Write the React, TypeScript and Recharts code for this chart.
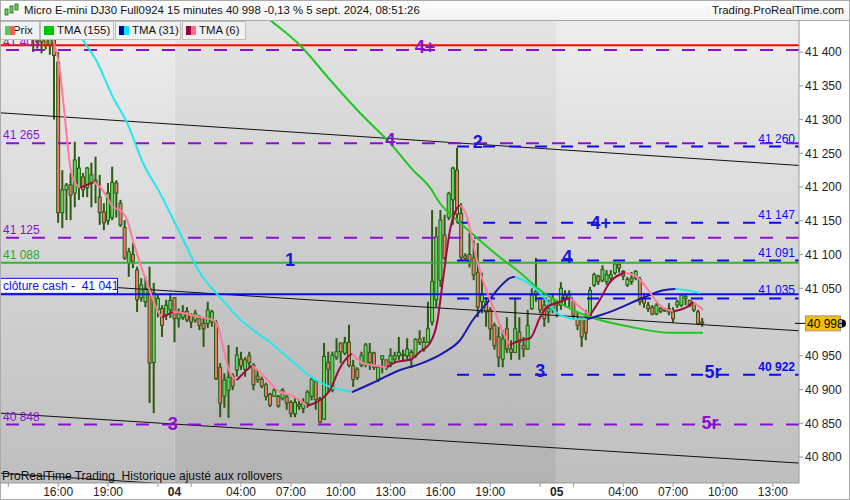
import React from 'react'
import {
  ComposedChart,
  Bar,
  Line,
  XAxis,
  YAxis,
  ReferenceLine,
  ReferenceArea,
  ReferenceDot,
} from 'recharts'

// x = 15-min slot counted from 3 sept. 12:30 (23:00-00:00 break left out)
const X_MAX = 192.3
const Y_MIN = 40761.5
const Y_MAX = 41446

// [slot, open, high, low, close]
const candles: number[][] = [
  [8, 41425, 41440, 41400, 41432], [9, 41432, 41445, 41405, 41415], [10, 41415, 41436, 41398, 41428],
  [11, 41428, 41440, 41404, 41410], [12, 41410, 41432, 41396, 41422], [13, 41418, 41425, 41300, 41395],
  [14, 41385, 41400, 41147, 41162], [15, 41162, 41225, 41139, 41196], [16, 41196, 41206, 41151, 41203],
  [17, 41203, 41221, 41151, 41188], [18, 41191, 41267, 41170, 41240], [19, 41200, 41245, 41181, 41228],
  [20, 41215, 41221, 41185, 41196], [21, 41199, 41230, 41185, 41228], [22, 41206, 41236, 41170, 41218],
  [23, 41210, 41245, 41176, 41205], [24, 41185, 41218, 41144, 41162], [25, 41163, 41176, 41136, 41147],
  [26, 41150, 41206, 41144, 41191], [27, 41155, 41230, 41151, 41207], [28, 41206, 41210, 41155, 41191],
  [29, 41176, 41181, 41141, 41144], [30, 41140, 41151, 41092, 41095], [31, 41088, 41110, 41067, 41104],
  [32, 41100, 41117, 41080, 41090], [33, 41077, 41082, 41015, 41033], [34, 41036, 41065, 41030, 41055],
  [35, 41030, 41067, 41022, 41050], [36, 41050, 41082, 40880, 40939], [37, 40940, 41058, 40865, 41043],
  [38, 41018, 41040, 41007, 41035], [39, 41020, 41025, 40978, 40995], [40, 41010, 41033, 41003, 41025],
  [41, 41018, 41043, 41006, 41032], [42, 41036, 41037, 40970, 41005], [43, 41005, 41020, 40992, 41012],
  [44, 41007, 41025, 41003, 41015], [45, 41016, 41022, 41000, 41003], [46, 41010, 41013, 40991, 41000],
  [47, 41003, 41018, 40999, 41013], [48, 41005, 41010, 40988, 40995], [49, 40998, 41006, 40963, 40990],
  [50, 40998, 41030, 40991, 41018], [51, 41000, 41018, 40993, 41015], [52, 40999, 41003, 40914, 40916],
  [53, 40933, 40939, 40859, 40880], [54, 40890, 40924, 40873, 40914], [55, 40899, 40966, 40858, 40918],
  [56, 40920, 40924, 40899, 40905], [57, 40929, 40963, 40919, 40951], [58, 40945, 40956, 40929, 40935],
  [59, 40930, 40948, 40919, 40944], [60, 40950, 40956, 40932, 40940], [61, 40936, 40939, 40899, 40907],
  [62, 40920, 40929, 40910, 40915], [63, 40915, 40919, 40902, 40905], [64, 40907, 40910, 40884, 40890],
  [65, 40893, 40895, 40874, 40877], [66, 40890, 40902, 40889, 40899], [67, 40890, 40892, 40873, 40876],
  [68, 40887, 40902, 40884, 40899], [69, 40889, 40892, 40870, 40880], [70, 40881, 40884, 40859, 40865],
  [71, 40864, 40887, 40859, 40881], [72, 40878, 40884, 40870, 40875], [73, 40872, 40887, 40865, 40880],
  [74, 40880, 40899, 40873, 40896], [75, 40890, 40919, 40884, 40915], [76, 40912, 40914, 40870, 40885],
  [77, 40886, 40889, 40850, 40852], [78, 40856, 40969, 40855, 40949], [79, 40940, 40956, 40895, 40930],
  [80, 40899, 40956, 40896, 40951], [81, 40948, 40976, 40944, 40956], [82, 40969, 40969, 40939, 40956],
  [83, 40954, 40978, 40951, 40969], [84, 40970, 40996, 40933, 40936], [85, 40935, 40944, 40904, 40915],
  [86, 40930, 40933, 40914, 40918], [87, 40936, 40956, 40933, 40950], [88, 40938, 40969, 40933, 40966],
  [89, 40955, 40969, 40929, 40940], [90, 40954, 40956, 40929, 40933], [91, 40915, 40936, 40911, 40933],
  [92, 40945, 40951, 40924, 40950], [93, 40944, 40944, 40929, 40933], [94, 40940, 40961, 40933, 40950],
  [95, 40945, 40956, 40939, 40950], [96, 40950, 40978, 40944, 40955], [97, 40952, 40959, 40941, 40950],
  [98, 40950, 40976, 40944, 40960], [99, 40955, 40959, 40932, 40945], [100, 40950, 40976, 40947, 40974],
  [101, 40975, 40988, 40966, 40970], [102, 40960, 40978, 40956, 40970], [103, 40970, 41030, 40969, 40990],
  [104, 41000, 41166, 40995, 41060], [105, 41033, 41141, 41022, 41126], [106, 41062, 41166, 41052, 41151],
  [107, 41129, 41159, 41092, 41095], [108, 41155, 41193, 41151, 41190], [109, 41181, 41230, 41144, 41228],
  [110, 41225, 41258, 41147, 41160], [111, 41161, 41176, 41092, 41096], [112, 41098, 41102, 41092, 41094],
  [113, 41100, 41132, 41081, 41090], [114, 41095, 41121, 41062, 41070], [115, 41073, 41117, 41007, 41022],
  [116, 41030, 41073, 41013, 41040], [117, 41030, 41037, 40993, 41015], [118, 41018, 41022, 40973, 40990],
  [119, 40995, 40999, 40959, 40965], [120, 40978, 40993, 40933, 40948], [121, 40945, 40988, 40933, 40975],
  [122, 40990, 41007, 40954, 40960], [123, 40960, 40973, 40944, 40955], [124, 40955, 41036, 40954, 40990],
  [125, 40985, 41007, 40944, 40970], [126, 40965, 40978, 40948, 40960], [127, 40960, 41018, 40959, 40995],
  [128, 41020, 41050, 41018, 41040], [129, 41040, 41095, 41030, 41045], [130, 41035, 41037, 41013, 41018],
  [131, 41025, 41033, 40993, 41005], [132, 41015, 41033, 40999, 41020], [133, 41020, 41043, 41013, 41035],
  [134, 41030, 41033, 41007, 41025], [135, 41025, 41059, 41018, 41050], [136, 41040, 41047, 41022, 41035],
  [137, 41035, 41047, 41022, 41040], [138, 41030, 41033, 41003, 41010], [139, 41005, 41015, 40988, 40995],
  [140, 41003, 41006, 40963, 40978], [141, 41003, 41018, 40973, 40984], [142, 41010, 41052, 41007, 41047],
  [143, 41055, 41073, 41052, 41070], [144, 41068, 41070, 41055, 41060], [145, 41062, 41084, 41059, 41078],
  [146, 41060, 41077, 41055, 41070], [147, 41065, 41077, 41059, 41070], [148, 41073, 41089, 41070, 41086],
  [149, 41085, 41089, 41073, 41080], [150, 41075, 41077, 41062, 41068], [151, 41055, 41067, 41052, 41063],
  [152, 41065, 41074, 41055, 41060], [153, 41065, 41077, 41062, 41075], [154, 41063, 41067, 41025, 41030],
  [155, 41035, 41043, 41021, 41028], [156, 41025, 41030, 41015, 41020], [157, 41022, 41025, 41010, 41012],
  [158, 41012, 41028, 41010, 41025], [159, 41020, 41022, 41013, 41016], [160, 41018, 41021, 41015, 41017],
  [161, 41020, 41028, 41010, 41015], [162, 41015, 41022, 40999, 41005], [163, 41025, 41033, 41021, 41030],
  [164, 41025, 41040, 41022, 41040], [165, 41035, 41040, 41025, 41038], [166, 41032, 41033, 41022, 41025],
  [167, 41028, 41028, 41015, 41018], [168, 41015, 41018, 40996, 40998], [169, 41000, 41006, 40993, 40998],
]

// [slot, value]
const tma155: number[][] = [
  [60.2, 41470], [65.7, 41444], [72.2, 41410], [79.4, 41359], [86.6, 41310], [93.9, 41265],
  [99.4, 41225], [103.5, 41199], [105.9, 41176], [110.7, 41147], [115.5, 41121], [120.3, 41096],
  [125.2, 41073], [130, 41047], [134.8, 41028], [139.6, 41013], [144.4, 41003], [151.6, 40993],
  [161.3, 40984], [169.2, 40984],
]
const tma31: number[][] = [
  [18, 41440], [20, 41418], [23.4, 41385], [27.2, 41333], [30.6, 41295], [34.4, 41236],
  [38.5, 41191], [43.3, 41132], [48.1, 41073], [52.9, 41037], [58.5, 41000], [65, 40970],
  [70.5, 40941], [75.3, 40917], [79.4, 40904], [83.5, 40898], [84.7, 40896], [89.8, 40910],
  [96.3, 40929], [101.1, 40938], [106.6, 40954], [110.7, 40973], [113.8, 41003], [117.2, 41028],
  [120.3, 41052], [122.7, 41065], [123.9, 41067], [126.8, 41059], [130, 41043], [134.1, 41013],
  [137.9, 41005], [141.3, 41004], [144.4, 41010], [146.8, 41015], [154.8, 41036], [159.6, 41047],
  [162.5, 41049], [165.3, 41047], [168.5, 41043],
]
const tma6: number[][] = [
  [11.5, 41436], [12.8, 41418], [14.4, 41373], [15.6, 41304], [16.9, 41230], [18.1, 41206],
  [19.3, 41199], [22.4, 41207], [24.1, 41200], [25.8, 41185], [27.2, 41170], [28.9, 41166],
  [30.6, 41151], [32, 41121], [33.7, 41087], [35.4, 41058], [36.6, 41037], [37.8, 41018],
  [39, 41007], [41.6, 41015], [43.3, 41014], [48.1, 41007], [51.3, 41003], [52.5, 40993],
  [53.7, 40963], [55.4, 40924], [57, 40914], [59.4, 40929], [60.6, 40935], [62.6, 40926],
  [65, 40910], [67.4, 40896], [69.8, 40892], [72.2, 40884], [73.9, 40876], [77, 40884],
  [79.4, 40899], [81.8, 40932], [83.5, 40947], [84.7, 40953], [87.4, 40939], [89.8, 40936],
  [93.1, 40933], [95.5, 40941], [98.7, 40944], [101.1, 40956], [103.5, 40969], [105.2, 40999],
  [106.6, 41062], [108.3, 41136], [110, 41169], [110.7, 41173], [112.4, 41156], [113.8, 41117],
  [116.2, 41062], [118.7, 41022], [121.1, 40984], [122.7, 40966], [125.2, 40973], [127.6, 40976],
  [130, 41007], [131.6, 41022], [134.8, 41030], [137.2, 41036], [139.6, 41022], [142, 41010],
  [144.4, 41033], [146.8, 41059], [150.4, 41073], [153.3, 41067], [155.7, 41050], [158.8, 41025],
  [162, 41016], [165.3, 41022], [166.8, 41030], [169.2, 41018],
]

const priceTicks = [40800, 40850, 40900, 40950, 41050, 41100, 41150, 41200, 41250, 41300, 41350, 41400]
const timeTicks = [2, 14, 26, 38, 42, 46, 58, 70, 82, 94, 106, 118, 130, 134, 138, 150, 162, 174, 186]
const timeLabels: Record<number, string> = {
  14: '16:00', 26: '19:00', 58: '04:00', 70: '07:00', 82: '10:00', 94: '13:00',
  106: '16:00', 118: '19:00', 150: '04:00', 162: '07:00', 174: '10:00', 186: '13:00',
}
const dayLabels: Record<number, string> = { 42: '04', 134: '05' }
const sessions = [[0, 42], [42, 134], [134, X_MAX]]

const redLevel = 41410
const greenLevel = 41088
const cashClose = 41041
const lastPrice = 40998
const purpleLevels = [41403, 41265, 41125, 40848]
const blueLevels = [41260, 41147, 41091, 41035, 40922]
const blueLevelsFrom = 110

// [x1, y1, x2, y2]
const trendlines = [
  [0, 41310, X_MAX, 41232],
  [0, 41062, X_MAX, 40987],
  [0, 40865, X_MAX, 40791],
  [0, 40776, X_MAX, 40700],
]

// [text, slot, price]
const purpleMarks: [string, number, number][] = [
  ['4+', 102.3, 41407], ['4', 93.9, 41270], ['3', 41.6, 40849], ['5r', 170.9, 40850],
]
const blueMarks: [string, number, number][] = [
  ['2', 115, 41267], ['4+', 144.6, 41147], ['1', 69.8, 41092], ['4', 136.5, 41096],
  ['3', 130, 40927], ['5r', 171.6, 40926],
]

const WICK = '#2b5a12'
const UP = '#5fdc5f'
const DOWN = '#ec7c6c'
const PURPLE = '#8a10d0'
const BLUE = '#0c0cf0'

const fmt = (v: number) => `${Math.floor(v / 1000)} ${String(Math.round(v % 1000)).padStart(3, '0')}`

const rows = candles.map(([i, o, h, l, c]) => ({ i, o, h, l, c, range: [l, h] }))

function splitRuns(pts: number[][]) {
  const up: { i: number; v: number }[][] = []
  const down: { i: number; v: number }[][] = []
  let cur = [pts[0]]
  let rising = pts[1][1] >= pts[0][1]
  for (let k = 1; k < pts.length; k++) {
    const r = pts[k][1] >= pts[k - 1][1]
    if (r !== rising && cur.length > 1) {
      ;(rising ? up : down).push(cur.map(([i, v]) => ({ i, v })))
      cur = [pts[k - 1]]
      rising = r
    }
    cur.push(pts[k])
  }
  ;(rising ? up : down).push(cur.map(([i, v]) => ({ i, v })))
  return { up, down }
}

const runs31 = splitRuns(tma31)
const runs6 = splitRuns(tma6)

function Candle(props: any) {
  const { x, y, width, height, payload } = props
  if (x == null || !payload) return null
  const top = Math.min(y, y + height)
  const bot = Math.max(y, y + height)
  const { o, h, l, c } = payload
  const py = (v: number) => top + ((h - v) / (h - l || 1)) * (bot - top)
  const cx = x + width / 2
  const bTop = py(Math.max(o, c))
  const bBot = py(Math.min(o, c))
  return (
    <g>
      <rect x={cx - 1} y={top} width={2} height={Math.max(bot - top, 1)} fill={WICK} />
      <rect x={cx - 1.5} y={bTop} width={3} height={Math.max(bBot - bTop, 1)} fill={c >= o ? UP : DOWN} stroke={WICK} strokeWidth={1} />
    </g>
  )
}

function TimeTick({ x, y, payload }: any) {
  const v = payload.value
  const day = dayLabels[v]
  return (
    <g>
      {!day && <line x1={x} x2={x} y1={y} y2={y + 4} stroke="#999" />}
      <text x={x} y={y + 13} textAnchor="middle" fontSize={12} fontWeight={day ? 'bold' : 'normal'} fill="#222">
        {day || timeLabels[v] || ''}
      </text>
    </g>
  )
}

function LeftLabel({ viewBox, text, color }: any) {
  if (!viewBox) return null
  return (
    <text x={viewBox.x + 3} y={viewBox.y - 4} fill={color} fontSize={12}>{text}</text>
  )
}

function RightLabel({ viewBox, text, bold }: any) {
  if (!viewBox) return null
  return (
    <text x={viewBox.x + viewBox.width - 4} y={viewBox.y - 4} fill={BLUE} fontSize={12} textAnchor="end" fontWeight={bold ? 'bold' : 'normal'}>
      {text}
    </text>
  )
}

function CashLabel({ viewBox, text }: any) {
  if (!viewBox) return null
  return (
    <g>
      <rect x={viewBox.x + 0.5} y={viewBox.y - 16} width={117} height={15} fill="#fff" stroke={BLUE} />
      <text x={viewBox.x + 3} y={viewBox.y - 4} fill={BLUE} fontSize={12} style={{ whiteSpace: 'pre' }}>{text}</text>
    </g>
  )
}

const markShape = (text: string, color: string) => (p: any) => (
  <text x={p.cx} y={p.cy} textAnchor="middle" dominantBaseline="central" fontSize={18} fontWeight="bold" fill={color}>
    {text}
  </text>
)

function LastPrice(p: any) {
  const { cx, cy } = p
  return (
    <g>
      <line x1={cx - 4} x2={cx + 6} y1={cy} y2={cy} stroke="#000" />
      <rect x={cx + 6.5} y={cy - 7.5} width={35} height={15} fill="#f5c000" stroke="#999" />
      <text x={cx + 8} y={cy + 4.5} fontSize={12} fill="#000">{fmt(lastPrice)}</text>
      <path d={`M${cx + 43} ${cy - 4} a4 4 0 0 1 0 8 z`} fill="#000" />
    </g>
  )
}

const legendBox = (left: number, width: number): React.CSSProperties => ({
  position: 'absolute', top: 21, left, width, height: 19, boxSizing: 'border-box', whiteSpace: 'nowrap',
  background: '#f1f1f1', border: '1px solid #bdbdbd', fontSize: 11.4, lineHeight: '17px', color: '#111',
})

const swatch = (left: number, a: string, b: string): React.CSSProperties => ({
  position: 'absolute', top: 4, left, width: 10, height: 9,
  background: `linear-gradient(90deg, ${a} 50%, ${b} 50%)`,
})

export default function App() {
  return (
    <div style={{ position: 'relative', width: 850, height: 500, fontFamily: '"Liberation Sans", Arial, sans-serif', background: '#fff' }}>
      <style>{'body{margin:0}'}</style>
      <ComposedChart width={850} height={500} data={rows} margin={{ top: 21, right: 0, bottom: 0, left: 0 }}>
        <defs>
          <linearGradient id="bgLight" x1="0" y1="0" x2="0" y2="1">
            <stop offset="0" stopColor="#ededed" />
            <stop offset="1" stopColor="#bebebe" />
          </linearGradient>
          <linearGradient id="bgDark" x1="0" y1="0" x2="0" y2="1">
            <stop offset="0" stopColor="#e4e4e4" />
            <stop offset="1" stopColor="#b2b2b2" />
          </linearGradient>
        </defs>
        <XAxis
          type="number"
          dataKey="i"
          domain={[0, X_MAX]}
          allowDataOverflow
          ticks={timeTicks}
          interval={0}
          height={17}
          tickLine={false}
          tickSize={0}
          tickMargin={0}
          tick={<TimeTick />}
          stroke="#999"
        />
        <YAxis
          orientation="right"
          type="number"
          domain={[Y_MIN, Y_MAX]}
          allowDataOverflow
          ticks={priceTicks}
          interval={0}
          tickFormatter={fmt}
          width={51}
          tickSize={4}
          tickMargin={2}
          stroke="#999"
          tick={{ fill: '#222', fontSize: 12 }}
        />
        {sessions.map(([a, b], k) => (
          <ReferenceArea key={'s' + k} x1={a} x2={b} fill={k % 2 ? 'url(#bgDark)' : 'url(#bgLight)'} fillOpacity={1} stroke="none" ifOverflow="hidden" />
        ))}
        {trendlines.map(([x1, y1, x2, y2], k) => (
          <ReferenceLine key={'t' + k} segment={[{ x: x1, y: y1 }, { x: x2, y: y2 }]} stroke="#111" strokeWidth={1} ifOverflow="hidden" />
        ))}
        <ReferenceLine y={redLevel} stroke="#ff0000" strokeWidth={2} />
        {purpleLevels.map((v) => (
          <ReferenceLine key={'p' + v} y={v} stroke={PURPLE} strokeWidth={2} strokeDasharray="13 13" label={<LeftLabel text={fmt(v)} color={PURPLE} />} />
        ))}
        <ReferenceLine y={greenLevel} stroke="#35b035" strokeWidth={2} label={<LeftLabel text={fmt(greenLevel)} color="#2fa52f" />} />
        <ReferenceLine y={cashClose} stroke={BLUE} strokeWidth={2} label={<CashLabel text={`clôture cash -  ${fmt(cashClose)}`} />} />
        {blueLevels.map((v, k) => (
          <ReferenceLine
            key={'b' + v}
            segment={[{ x: blueLevelsFrom, y: v }, { x: X_MAX, y: v }]}
            stroke={BLUE}
            strokeWidth={2}
            strokeDasharray="12 14"
            label={<RightLabel text={fmt(v)} bold={k === blueLevels.length - 1} />}
          />
        ))}
        <Bar dataKey="range" barSize={4} shape={<Candle />} isAnimationActive={false} />
        <Line data={tma155.map(([i, v]) => ({ i, v }))} dataKey="v" type="monotone" stroke="#1ec81e" strokeWidth={2} dot={false} isAnimationActive={false} />
        {runs31.down.map((d, k) => (
          <Line key={'c' + k} data={d} dataKey="v" type="monotone" stroke="#22e8ee" strokeWidth={2} dot={false} isAnimationActive={false} />
        ))}
        {runs31.up.map((d, k) => (
          <Line key={'n' + k} data={d} dataKey="v" type="monotone" stroke="#1a1aa8" strokeWidth={2} dot={false} isAnimationActive={false} />
        ))}
        {runs6.down.map((d, k) => (
          <Line key={'k' + k} data={d} dataKey="v" type="monotone" stroke="#ff7a9c" strokeWidth={2} dot={false} isAnimationActive={false} />
        ))}
        {runs6.up.map((d, k) => (
          <Line key={'r' + k} data={d} dataKey="v" type="monotone" stroke="#9c0c3c" strokeWidth={2} dot={false} isAnimationActive={false} />
        ))}
        {purpleMarks.map(([t, x, y]) => (
          <ReferenceDot key={'pm' + t + x} x={x} y={y} r={0} shape={markShape(t, PURPLE)} />
        ))}
        {blueMarks.map(([t, x, y]) => (
          <ReferenceDot key={'bm' + t + x} x={x} y={y} r={0} shape={markShape(t, '#1616e0')} />
        ))}
        <ReferenceDot x={X_MAX} y={lastPrice} r={0} shape={LastPrice} />
      </ComposedChart>

      <div style={{ position: 'absolute', left: 2, top: 469, fontSize: 12, color: '#111', whiteSpace: 'pre' }}>
        ProRealTime Trading  Historique ajusté aux rollovers
      </div>

      <div style={{ position: 'absolute', top: 0, left: 0, width: 850, height: 21, boxSizing: 'border-box', background: 'linear-gradient(#ffffff, #f2f2f2)', borderBottom: '1px solid #aaa', fontSize: 11.4, lineHeight: '20px', color: '#111', whiteSpace: 'nowrap' }}>
        <svg width={16} height={14} style={{ position: 'absolute', left: 4, top: 3 }}>
          <rect x={1} y={6} width={3} height={6} fill="#5fdc5f" stroke="#2b5a12" strokeWidth={0.8} />
          <rect x={6} y={3} width={3} height={7} fill="#5fdc5f" stroke="#2b5a12" strokeWidth={0.8} />
          <rect x={11} y={1} width={3} height={6} fill="#5fdc5f" stroke="#2b5a12" strokeWidth={0.8} />
        </svg>
        <span style={{ position: 'absolute', left: 24 }}>Micro E-mini DJ30 Full0924 15 minutes 40 998 -0,13 % 5 sept. 2024, 08:51:26</span>
        <span style={{ position: 'absolute', right: 6 }}>Trading.ProRealTime.com</span>
      </div>

      <div style={legendBox(0, 40)}>
        <span style={{ position: 'absolute', left: 12 }}>Prix</span>
        <span style={swatch(4, '#55cc55', '#e06858')} />
      </div>
      <div style={legendBox(40, 74)}>
        <span style={swatch(3, '#00c800', '#00c800')} />
        <span style={{ position: 'absolute', left: 16 }}>TMA (155)</span>
      </div>
      <div style={legendBox(115, 66)}>
        <span style={swatch(3, '#0000a8', '#00e8ff')} />
        <span style={{ position: 'absolute', left: 16 }}>TMA (31)</span>
      </div>
      <div style={legendBox(182, 64)}>
        <span style={swatch(3, '#99003a', '#ff6f91')} />
        <span style={{ position: 'absolute', left: 16 }}>TMA (6)</span>
      </div>

      <div style={{ position: 'absolute', inset: 0, border: '1px solid #aaa', pointerEvents: 'none' }} />
    </div>
  )
}
